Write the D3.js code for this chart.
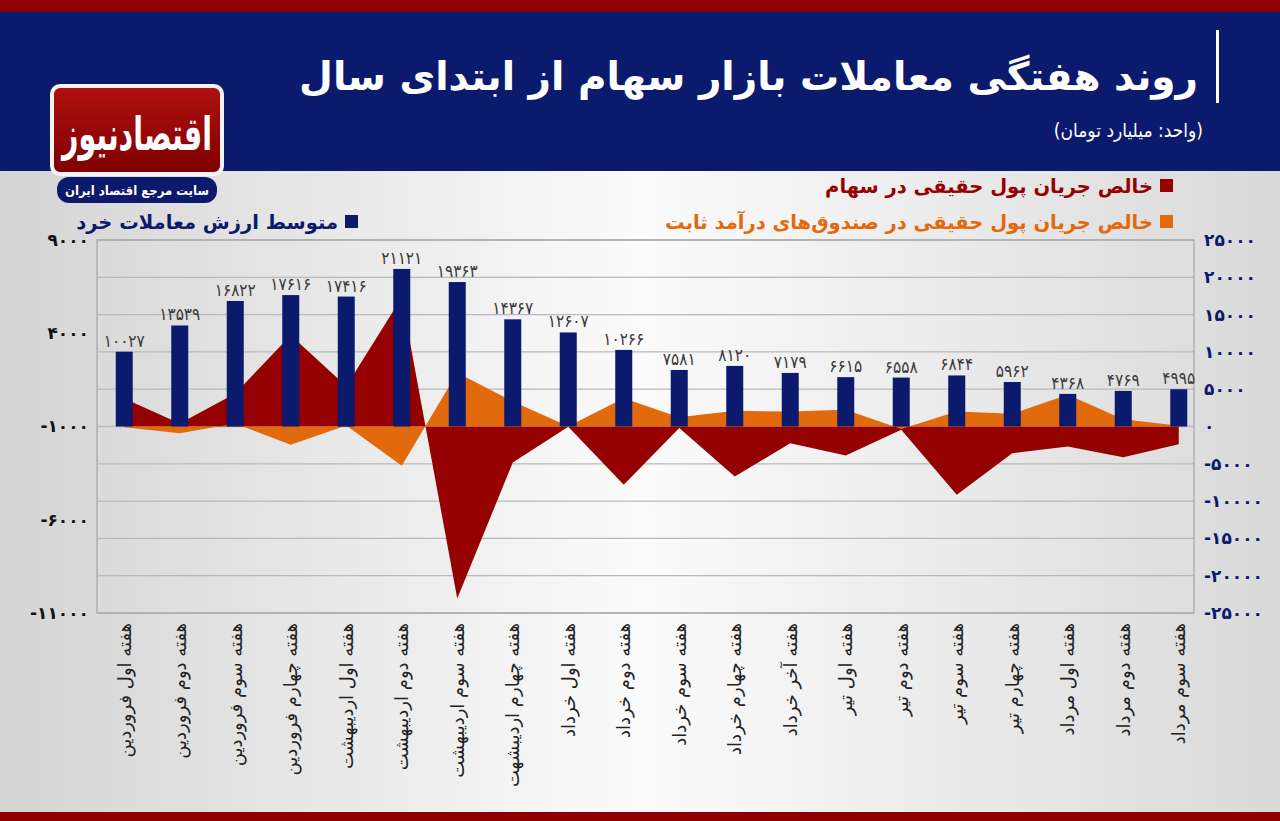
<!DOCTYPE html>
<html><head><meta charset="utf-8">
<script src="https://cdn.jsdelivr.net/npm/d3@7/dist/d3.min.js"></script>
<style>html,body{margin:0;padding:0;background:#fff}svg{display:block}</style>
</head><body><svg id="c" width="1280" height="821"></svg>
<script>
// ---------- DATA ----------
const categories = ["هفته اول فروردین","هفته دوم فروردین","هفته سوم فروردین","هفته چهارم فروردین","هفته اول اردیبهشت","هفته دوم اردیبهشت","هفته سوم اردیبهشت","هفته چهارم اردیبشهت","هفته اول خرداد","هفته دوم خرداد","هفته سوم خرداد","هفته چهارم خرداد","هفته آخر خرداد","هفته اول تیر","هفته دوم تیر","هفته سوم تیر","هفته چهارم تیر","هفته اول مرداد","هفته دوم مرداد","هفته سوم مرداد"];
const retailValue = [10027,13539,16822,17616,17416,21121,19363,14367,12607,10266,7581,8120,7179,6615,6558,6844,5962,4368,4769,4995];
const stockFlow = [3750,400,4420,12240,5400,17300,-23060,-4830,-50,-7820,-200,-6700,-2240,-3890,-450,-9160,-3570,-2680,-4110,-2370];
const fixedIncomeFlow = [-100,-890,400,-2460,150,-5270,7190,3350,50,3800,1250,2100,2000,2230,-350,2010,1700,4240,980,90];
const leftTicks = [9000,4000,-1000,-6000,-11000];
const rightTicks = [25000,20000,15000,10000,5000,0,-5000,-10000,-15000,-20000,-25000];
const titleText = "روند هفتگی معاملات بازار سهام از ابتدای سال";
const unitText = "(واحد: میلیارد تومان)";
const legendStock = "خالص جریان پول حقیقی در سهام";
const legendFixed = "خالص جریان پول حقیقی در صندوق‌های درآمد ثابت";
const legendRetail = "متوسط ارزش معاملات خرد";
const logoText = "اقتصادنیوز";
const logoSub = "سایت مرجع اقتصاد ایران";

(function(){
// ---------- helpers ----------
const fa = n => String(n).replace(/\d/g, d => "۰۱۲۳۴۵۶۷۸۹"[d]);
const RLM = "\u200F";
const FONT = "'DejaVu Sans', sans-serif";
const FONTC = "'DejaVu Sans Condensed','DejaVu Sans', sans-serif";

const C = { navy:"#0b1a6c", red:"#950000", orange:"#e2690c", band:"#8e0000" };

const svg = d3.select("#c");
const defs = svg.append("defs");
const bg = defs.append("linearGradient").attr("id","bg").attr("x1","0").attr("x2","1").attr("y1","0").attr("y2","0");
bg.append("stop").attr("offset","0%").attr("stop-color","#d4d4d4");
bg.append("stop").attr("offset","50%").attr("stop-color","#fbfbfb");
bg.append("stop").attr("offset","100%").attr("stop-color","#d9d9d9");
const lg = defs.append("linearGradient").attr("id","logo").attr("x1","0").attr("x2","0").attr("y1","0").attr("y2","1");
lg.append("stop").attr("offset","0%").attr("stop-color","#b01010");
lg.append("stop").attr("offset","100%").attr("stop-color","#7e0000");

// background
svg.append("rect").attr("width",1280).attr("height",821).attr("fill","url(#bg)");
// header
svg.append("rect").attr("x",0).attr("y",0).attr("width",1280).attr("height",171).attr("fill",C.navy);
svg.append("rect").attr("x",0).attr("y",0).attr("width",1280).attr("height",12).attr("fill",C.band);
svg.append("rect").attr("x",0).attr("y",812).attr("width",1280).attr("height",9).attr("fill",C.band);

svg.append("text").attr("x",1198).attr("y",90).attr("text-anchor","end")
  .attr("font-family",FONT).attr("font-weight","bold").attr("font-size",39).attr("fill","#fff")
  .text(titleText);
svg.append("rect").attr("x",1216).attr("y",30).attr("width",3).attr("height",73).attr("fill","#fff");
svg.append("text").attr("x",1203).attr("y",137).attr("text-anchor","end")
  .attr("font-family",FONTC).attr("font-size",19).attr("fill","#fff")
  .text(RLM+unitText+RLM);

// logo
svg.append("rect").attr("x",52).attr("y",86).attr("width",170).attr("height",88).attr("rx",8)
  .attr("fill","url(#logo)").attr("stroke","#f4f4f4").attr("stroke-width",4);
svg.append("text").attr("x",137).attr("y",150).attr("text-anchor","middle")
  .attr("font-family",FONTC).attr("font-weight","bold").attr("font-size",46).attr("fill","#fff")
  .attr("textLength",150).attr("lengthAdjust","spacingAndGlyphs").text(logoText);
svg.append("rect").attr("x",57).attr("y",177).attr("width",160).attr("height",26).attr("rx",12).attr("fill",C.navy);
svg.append("text").attr("x",137).attr("y",195).attr("text-anchor","middle")
  .attr("font-family",FONTC).attr("font-weight","bold").attr("font-size",13).attr("fill","#fff").text(logoSub);

// ---------- scales ----------
const pTop = 240, pBottom = 613, pLeft = 97, pRight = 1194;
const yR = d3.scaleLinear().domain([-25000,25000]).range([pBottom, pTop]);
const yL = d3.scaleLinear().domain([-11000,9000]).range([pBottom, pTop]);
const x = d3.scaleBand().domain(categories).range([96.5, 1206.5]).padding(0);
const cx = d => x(d) + x.bandwidth()/2;

// grid
const grid = svg.append("g");
grid.selectAll("line").data(rightTicks).join("line")
  .attr("x1",pLeft).attr("x2",pRight).attr("y1",d=>yR(d)).attr("y2",d=>yR(d))
  .attr("stroke","#b9b9b9").attr("stroke-width",1.3);
svg.append("rect").attr("x",pLeft).attr("y",pTop).attr("width",pRight-pLeft).attr("height",pBottom-pTop)
  .attr("fill","none").attr("stroke","#a9a9a9").attr("stroke-width",1.3);

// areas
const areaGen = vals => d3.area().x((d,i)=>cx(categories[i])).y0(yR(0)).y1(d=>yR(d))(vals);
svg.append("path").attr("d",areaGen(stockFlow)).attr("fill",C.red);
svg.append("path").attr("d",areaGen(fixedIncomeFlow)).attr("fill",C.orange);

// bars
const bw = 17;
svg.append("g").selectAll("rect").data(retailValue).join("rect")
  .attr("x",(d,i)=>cx(categories[i])-bw/2).attr("width",bw)
  .attr("y",d=>yR(Math.max(0,d))).attr("height",d=>Math.abs(yR(d)-yR(0)))
  .attr("fill",C.navy);
svg.append("g").selectAll("text").data(retailValue).join("text")
  .attr("x",(d,i)=>cx(categories[i])).attr("y",d=>yR(d)-5).attr("text-anchor","middle")
  .attr("font-family",FONTC).attr("font-size",17).attr("fill","#3a3a3a").text(d=>fa(d));

// left axis
svg.append("g").selectAll("text").data(leftTicks).join("text")
  .attr("x",89).attr("y",d=>yL(d)).attr("dy","0.35em").attr("text-anchor","end")
  .attr("font-family",FONT).attr("font-weight","bold").attr("font-size",17).attr("fill","#111")
  .text(d=>fa(d));
// right axis
svg.append("g").selectAll("text").data(rightTicks).join("text")
  .attr("x",1204).attr("y",d=>yR(d)).attr("dy","0.35em").attr("text-anchor","start")
  .attr("font-family",FONT).attr("font-weight","bold").attr("font-size",17).attr("fill",C.navy)
  .text(d=>fa(d));

// x labels
svg.append("g").selectAll("text").data(categories).join("text")
  .attr("transform",d=>`translate(${cx(d)},623) rotate(-90)`).attr("dy","0.35em")
  .attr("text-anchor","end").attr("font-family",FONT).attr("font-size",18).attr("fill","#222")
  .text(d=>d);

// legend
const leg = [
  {t:legendStock, c:C.red, x:1173, y:186},
  {t:legendFixed, c:C.orange, x:1173, y:222},
  {t:legendRetail, c:C.navy, x:358, y:222}
];
const lgG = svg.append("g");
leg.forEach(l=>{
  lgG.append("rect").attr("x",l.x-13).attr("y",l.y-7).attr("width",13).attr("height",13).attr("fill",l.c);
  lgG.append("text").attr("x",l.x-20).attr("y",l.y).attr("dy","0.35em").attr("text-anchor","end")
    .attr("font-family",FONT).attr("font-weight","bold").attr("font-size",19.5).attr("fill",l.c).text(l.t);
});
})();
</script></body></html>
